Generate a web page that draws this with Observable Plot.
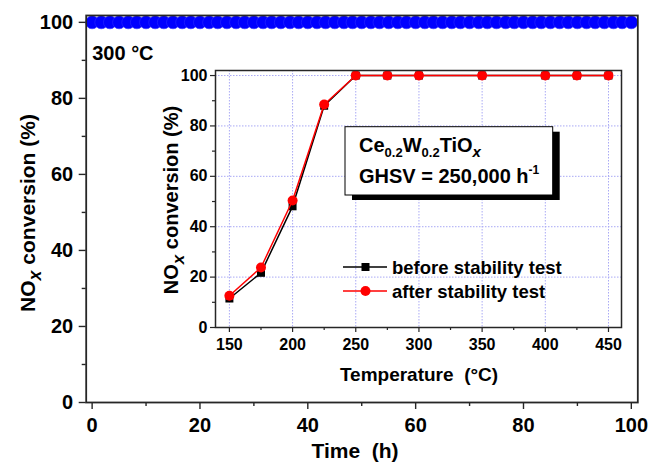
<!DOCTYPE html>
<html><head><meta charset="utf-8">
<script src="https://cdn.jsdelivr.net/npm/d3@7"></script>
<script src="https://cdn.jsdelivr.net/npm/@observablehq/plot@0.6"></script>
<style>
body{margin:0;background:#fff;}
#wrap{position:relative;width:650px;height:463px;background:#fff;}
#wrap > svg{position:absolute;}
</style></head><body><div id="wrap"></div>
<script>
// ---- data ----
const timeH = [0,1.7,3.3,5,6.7,8.3,10,11.7,13.3,15,16.7,18.3,20,21.7,23.3,25,26.7,28.3,30,31.7,33.3,35,36.7,38.3,40,41.7,43.3,45,46.7,48.3,50,51.7,53.3,55,56.7,58.3,60,61.7,63.3,65,66.7,68.3,70,71.7,73.3,75,76.7,78.3,80,81.7,83.3,85,86.7,88.3,90,91.7,93.3,95,96.7,98.3,100];
const noxStability = [100,100,100,100,100,100,100,100,100,100,100,100,100,100,100,100,100,100,100,100,100,100,100,100,100,100,100,100,100,100,100,100,100,100,100,100,100,100,100,100,100,100,100,100,100,100,100,100,100,100,100,100,100,100,100,100,100,100,100,100,100];
const temps = [150,175,200,225,250,275,300,350,400,425,450];
const beforeTest = [11.5,21.7,48.1,88,100,100,100,100,100,100,100];
const afterTest = [12.6,23.8,50.4,88.5,100,100,100,100,100,100,100];
const mainXTicks = [0,20,40,60,80,100];
const mainXMinor = [10,30,50,70,90];
const mainYTicks = [0,20,40,60,80,100];
const mainYMinor = [10,30,50,70,90];
const insetXTicks = [150,200,250,300,350,400,450];
const insetXMinor = [175,225,275,325,375,425];
const insetYTicks = [0,20,40,60,80,100];
const insetYMinor = [10,30,50,70,90];
const insetGridY = [20,40,60,80,100];
const stabilityLabel = "300 °C";
const legendLabels = ["before stability test", "after stability test"];

const FONT = "'Liberation Sans', Arial, Helvetica, sans-serif";
const AX = "#262626";

// ---- main chart ----
const main = Plot.plot({
  width: 650, height: 463,
  marginLeft: 85.7, marginRight: 12.7, marginTop: 15, marginBottom: 61,
  x: {domain: [-1.1, 101.2]},
  y: {domain: [0, 101.8]},
  style: {fontFamily: FONT, fontWeight: "bold", fontSize: "20px", color: "#000", background: "transparent", overflow: "visible"},
  marks: [
    Plot.axisX(mainXMinor, {tickSize: 4, tickFormat: () => "", stroke: AX, strokeWidth: 1.4, label: null}),
    Plot.axisX(mainXTicks, {tickSize: 7, tickPadding: 8, stroke: AX, strokeWidth: 1.4, fontSize: 20, label: null}),
    Plot.axisY(mainYMinor, {tickSize: 4, tickFormat: () => "", stroke: AX, strokeWidth: 1.4, label: null}),
    Plot.axisY(mainYTicks, {tickSize: 7, tickPadding: 6, stroke: AX, strokeWidth: 1.4, fontSize: 20, label: null}),
    Plot.dot(timeH, {x: timeH, y: noxStability, r: 6.5, fill: "#0000ff", stroke: "#3333ff", strokeWidth: 0.5}),
    Plot.frame({stroke: AX, strokeWidth: 1.8}),
    Plot.text([stabilityLabel], {frameAnchor: "top-left", dx: 6, dy: 30.6, textAnchor: "start", fontSize: 20, fontWeight: "bold", fill: "#000"})
  ]
});
main.style.left = "0px"; main.style.top = "0px";
document.getElementById("wrap").appendChild(main);

const ms = d3.select(main);
ms.append("text")
  .attr("x", 355).attr("y", 458).attr("text-anchor", "middle")
  .attr("font-size", 21).attr("font-weight", "bold").attr("fill", "#000")
  .attr("xml:space", "preserve")
  .text("Time  (h)");
function noxTitle(sel, x, y, size) {
  const t = sel.append("text")
    .attr("transform", `translate(${x},${y}) rotate(-90)`)
    .attr("text-anchor", "middle").attr("font-size", size)
    .attr("font-weight", "bold").attr("fill", "#000");
  t.append("tspan").text("NO");
  t.append("tspan").attr("font-style", "italic").attr("dy", size * 0.28).attr("font-size", size * 0.85).text("x");
  t.append("tspan").attr("dy", -size * 0.28).text(" conversion (%)");
}
noxTitle(ms, 35, 213, 21);

// ---- inset ----
const IX = 145, IY = 60;
const inset = Plot.plot({
  width: 490, height: 330,
  marginLeft: 70, marginRight: 14, marginTop: 10, marginBottom: 63,
  x: {domain: [139, 460.3]},
  y: {domain: [0, 102]},
  style: {fontFamily: FONT, fontWeight: "bold", fontSize: "16px", color: "#000", background: "transparent", overflow: "visible"},
  marks: [
    Plot.frame({fill: "white", stroke: "none"}),
    Plot.ruleX(insetXTicks, {stroke: "#a9a9f5", strokeDasharray: "1.5,1.5", strokeWidth: 1}),
    Plot.ruleY(insetGridY, {stroke: "#a9a9f5", strokeDasharray: "1.5,1.5", strokeWidth: 1}),
    Plot.axisX(insetXMinor, {tickSize: 3, tickFormat: () => "", stroke: AX, strokeWidth: 1.2, label: null}),
    Plot.axisX(insetXTicks, {tickSize: 5, tickPadding: 6, stroke: AX, strokeWidth: 1.2, fontSize: 16, label: null}),
    Plot.axisY(insetYMinor, {tickSize: 3, tickFormat: () => "", stroke: AX, strokeWidth: 1.2, label: null}),
    Plot.axisY(insetYTicks, {tickSize: 5, tickPadding: 3, stroke: AX, strokeWidth: 1.2, fontSize: 16, label: null}),
    Plot.line(temps, {x: temps, y: beforeTest, stroke: "#000", strokeWidth: 1.5}),
    Plot.dot(temps, {x: temps, y: beforeTest, symbol: "square", r: 4.5, fill: "#000"}),
    Plot.line(temps, {x: temps, y: afterTest, stroke: "#ff0000", strokeWidth: 1.5}),
    Plot.dot(temps, {x: temps, y: afterTest, r: 5, fill: "#ff0000"}),
    Plot.frame({stroke: AX, strokeWidth: 1.5})
  ]
});
inset.style.left = IX + "px"; inset.style.top = IY + "px";
document.getElementById("wrap").appendChild(inset);

const is = d3.select(inset);
is.append("text")
  .attr("x", 419 - IX).attr("y", 381 - IY).attr("text-anchor", "middle")
  .attr("font-size", 19).attr("font-weight", "bold").attr("fill", "#000")
  .attr("xml:space", "preserve")
  .text("Temperature  (°C)");
noxTitle(is, 178 - IX, 200 - IY, 20);

// legend
const legendItems = [
  {label: legendLabels[0], color: "#000", sym: "square", y: 267},
  {label: legendLabels[1], color: "#ff0000", sym: "circle", y: 291}
];
legendItems.forEach(d => {
  const y = d.y - IY;
  is.append("line").attr("x1", 343 - IX).attr("x2", 387 - IX).attr("y1", y).attr("y2", y)
    .attr("stroke", d.color).attr("stroke-width", 1.5);
  if (d.sym === "square") {
    is.append("rect").attr("x", 365.5 - IX - 4).attr("y", y - 4).attr("width", 8).attr("height", 8).attr("fill", d.color);
  } else {
    is.append("circle").attr("cx", 365.5 - IX).attr("cy", y).attr("r", 5).attr("fill", d.color);
  }
  is.append("text").attr("x", 392 - IX).attr("y", y + 6.5).attr("text-anchor", "start")
    .attr("font-size", 18.5).attr("font-weight", "bold").attr("fill", "#000").text(d.label);
});

// annotation box
const bx = 345 - IX, by = 126.7 - IY, bw = 207.7, bh = 68.3;
is.append("rect").attr("x", bx + 7).attr("y", by + 5).attr("width", bw).attr("height", bh).attr("fill", "#000");
is.append("rect").attr("x", bx).attr("y", by).attr("width", bw).attr("height", bh).attr("fill", "#fff").attr("stroke", "#000").attr("stroke-width", 1);
const t1 = is.append("text").attr("x", 359 - IX).attr("y", 152 - IY).attr("text-anchor", "start").attr("font-size", 20).attr("font-weight", "bold").attr("fill", "#000");
t1.append("tspan").text("Ce");
t1.append("tspan").attr("font-size", 13).attr("dy", 5).text("0.2");
t1.append("tspan").attr("dy", -5).text("W");
t1.append("tspan").attr("font-size", 13).attr("dy", 5).text("0.2");
t1.append("tspan").attr("dy", -5).text("TiO");
t1.append("tspan").attr("font-size", 15).attr("font-style", "italic").attr("dy", 5).text("x");
const t2 = is.append("text").attr("x", 359 - IX).attr("y", 183 - IY).attr("text-anchor", "start").attr("font-size", 20).attr("font-weight", "bold").attr("fill", "#000");
t2.append("tspan").text("GHSV = 250,000 h");
t2.append("tspan").attr("font-size", 12).attr("dy", -9).text("-1");
</script>
</body></html>
